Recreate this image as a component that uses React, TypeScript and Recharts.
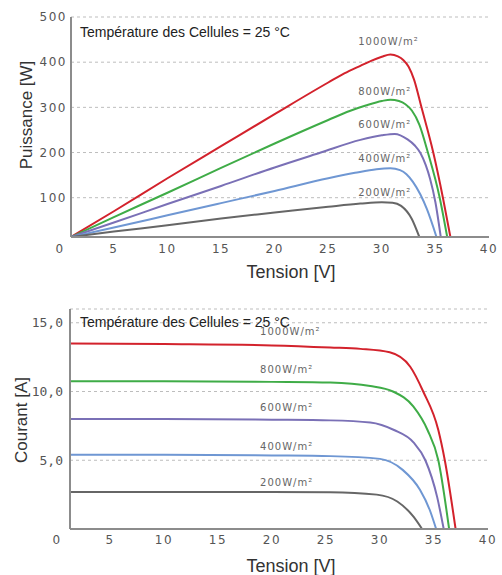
import {
  CartesianGrid,
  Customized,
  Line,
  LineChart,
  ReferenceDot,
  XAxis,
  YAxis,
} from "recharts";

const irradiance = ["1000W/m²", "800W/m²", "600W/m²", "400W/m²", "200W/m²"];
const colors = ["#d3222c", "#3fac47", "#7a70b6", "#6f97d3", "#666666"];

// Puissance [W] en fonction de la tension [V]
const pv1000V = [1, 5, 10, 15, 20, 25, 26.5, 28, 29, 30, 30.8, 31.5, 32.0, 32.5, 33.0, 33.7, 34.8, 35.7, 36.4];
const pv1000P = [13, 70, 143, 214, 285, 355, 375, 392, 403, 412, 417, 413, 405, 390, 362, 300, 200, 100, 13];
const pv800V = [1, 5, 10, 15, 20, 25, 27, 28.5, 30, 30.8, 31.6, 32.2, 32.8, 33.5, 34.3, 35.4, 36.1];
const pv800P = [13, 57, 111, 166, 220, 272, 292, 304, 314, 317, 314, 307, 293, 262, 200, 100, 13];
const pv600V = [1, 5, 10, 15, 20, 24.3, 28, 30, 31.2, 32.4, 33.1, 33.6, 34.1, 34.5, 35.0, 35.5];
const pv600P = [13, 45, 86, 126, 167, 200, 228, 238, 241, 229, 215, 199, 172, 142, 90, 13];
const pv400V = [1, 5, 10, 15, 20, 25, 27.5, 29.5, 30.8, 31.7, 32.3, 32.9, 33.6, 34.2, 35.1];
const pv400P = [13, 34, 61, 88, 115, 143, 155, 163, 165, 161, 152, 135, 107, 75, 13];
const pv200V = [1, 5, 10, 15, 20, 25, 28, 30, 31, 31.8, 32.8, 33.5];
const pv200P = [13, 25, 39, 54, 67, 80, 87, 90, 89, 82, 53, 13];

// Courant [A] en fonction de la tension [V]
const iv1000V = [1.3, 10, 20, 25.4, 28.2, 30.9, 32.8, 34.0, 35.4, 36.0, 37.0];
const iv1000I = [13.5, 13.45, 13.35, 13.2, 13.1, 12.85, 11.8, 10.0, 7.2, 5.0, 0];
const iv800V = [1.3, 10, 20, 25.4, 29.1, 31.2, 33.1, 34.4, 35.4, 36.4];
const iv800I = [10.75, 10.75, 10.7, 10.65, 10.4, 10.0, 8.9, 7.2, 5.0, 0];
const iv600V = [1.3, 10, 20, 25.4, 29.1, 31.3, 33.1, 34.2, 35.3, 35.9];
const iv600I = [8.0, 8.0, 7.95, 7.9, 7.75, 7.2, 6.3, 5.0, 2.3, 0];
const iv400V = [1.3, 10, 20, 25.4, 30, 32.1, 33.7, 34.6, 35.2];
const iv400I = [5.4, 5.4, 5.35, 5.3, 5.1, 4.3, 2.85, 1.4, 0];
const iv200V = [1.3, 10, 20, 25.4, 29.7, 31.6, 33.1, 33.9];
const iv200I = [2.7, 2.7, 2.7, 2.68, 2.5, 2.0, 0.9, 0];

const xTicksTop = [1, 5, 10, 15, 20, 25, 30, 35, 40];
const xTicksBottom = [1.3, 5, 10, 15, 20, 25, 30, 35, 40];
const yTicksPower = [100, 200, 300, 400, 500];
const yTicksCurrent = [5, 10, 15];

// label anchors (data coords) for the irradiance annotations
const powerLabelV = 27.8;
const powerLabelP = [447, 336, 263, 186, 111];
const currentLabelV = 18.9;
const currentLabelI = [14.38, 11.6, 8.83, 5.99, 3.36];

const toPts = (vs: number[], ys: number[]) => vs.map((v, i) => ({ v, y: ys[i] }));

const powerSeries = [
  toPts(pv1000V, pv1000P),
  toPts(pv800V, pv800P),
  toPts(pv600V, pv600P),
  toPts(pv400V, pv400P),
  toPts(pv200V, pv200P),
];
const currentSeries = [
  toPts(iv1000V, iv1000I),
  toPts(iv800V, iv800I),
  toPts(iv600V, iv600I),
  toPts(iv400V, iv400I),
  toPts(iv200V, iv200I),
];

const FRAME = "#8c8c8c";
const TICK_FONT = "DejaVu Sans";
const TITLE_FONT = "Liberation Sans, Arial, sans-serif";

function makeXTick(shift: number, dy: number) {
  return (props: any) => {
    const { x, y, payload, index } = props;
    const first = index === 0;
    return (
      <text
        x={x + (first ? shift : 0)}
        y={y + dy}
        textAnchor="middle"
        fill="#555"
        fontSize={12}
        fontFamily={TICK_FONT}
        letterSpacing={1.5}
      >
        {first ? "0" : String(payload.value)}
      </text>
    );
  };
}

function PowerYTick(props: any) {
  const { x, y, payload } = props;
  return (
    <text x={x} y={y} dy="0.36em" textAnchor="end" fill="#555" fontSize={12} fontFamily={TICK_FONT} letterSpacing={1.5}>
      {String(payload.value)}
    </text>
  );
}

function CurrentYTick(props: any) {
  const { x, y, payload } = props;
  return (
    <text x={x} y={y} dy="0.36em" textAnchor="end" fill="#555" fontSize={13} fontFamily="DejaVu Sans Mono">
      {payload.value.toFixed(1).replace(".", ",")}
    </text>
  );
}

function curveLabel(text: string) {
  return (p: any) => (
    <text x={p.cx} y={p.cy} dy="0.36em" fill="#666" fontSize={10} fontFamily={TICK_FONT} letterSpacing={1}>
      {text}
    </text>
  );
}

// thin box on the top and right sides of each plot
function frame() {
  return [
    <XAxis key="ft" xAxisId="top" orientation="top" type="number" domain={[0, 1]} height={0} tick={false} tickLine={false} axisLine={{ stroke: FRAME, strokeWidth: 1.5 }} />,
    <YAxis key="fr" yAxisId="right" orientation="right" type="number" domain={[0, 1]} width={0} tick={false} tickLine={false} axisLine={{ stroke: FRAME, strokeWidth: 1.5 }} />,
  ];
}

function Texts({ axisTitle, ax, ay, bottomY }: { axisTitle: string; ax: number; ay: number; bottomY: number }) {
  return (
    <g>
      <text x={80} y={37} fill="#222" fontSize={14} fontFamily={TITLE_FONT}>
        Température des Cellules = 25 °C
      </text>
      <text x={ax} y={ay} transform={`rotate(-90 ${ax} ${ay})`} textAnchor="middle" fill="#333" fontSize={17} fontFamily={TITLE_FONT}>
        {axisTitle}
      </text>
      <text x={291} y={bottomY} textAnchor="middle" fill="#333" fontSize={18} fontFamily={TITLE_FONT}>
        Tension [V]
      </text>
    </g>
  );
}

export default function App() {
  return (
    <div style={{ position: "absolute", left: 0, top: 0, width: 502, height: 575, background: "#fff" }}>
      <div style={{ position: "absolute", left: 0, top: 0 }}>
        <LineChart width={502} height={290} margin={{ top: 17, right: 13, left: 11, bottom: 23 }}>
          <CartesianGrid vertical={false} strokeDasharray="3 3" stroke="#bdbdbd" />
          <XAxis
            dataKey="v"
            type="number"
            domain={[1, 40]}
            ticks={xTicksTop}
            allowDataOverflow
            height={30}
            tickSize={0}
            tickMargin={0}
            tick={makeXTick(-11, 16)}
            axisLine={{ stroke: FRAME, strokeWidth: 2 }}
          />
          <YAxis
            type="number"
            domain={[13, 500]}
            ticks={yTicksPower}
            allowDataOverflow
            width={60}
            tickSize={0}
            tickMargin={4}
            tick={PowerYTick}
            axisLine={{ stroke: FRAME, strokeWidth: 2 }}
          />
          {frame()}
          {powerSeries.map((d, i) => (
            <Line
              key={irradiance[i]}
              data={d}
              dataKey="y"
              type="monotone"
              stroke={colors[i]}
              strokeWidth={2}
              dot={false}
              isAnimationActive={false}
            />
          ))}
          {irradiance.map((t, i) => (
            <ReferenceDot key={t} x={powerLabelV} y={powerLabelP[i]} r={0} shape={curveLabel(t)} />
          ))}
          <Customized component={() => <Texts axisTitle="Puissance [W]" ax={32} ay={115} bottomY={278} />} />
        </LineChart>
      </div>
      <div style={{ position: "absolute", left: 0, top: 290 }}>
        <LineChart width={502} height={285} margin={{ top: 19, right: 14, left: 10, bottom: 16 }}>
          <CartesianGrid vertical={false} strokeDasharray="3 3" stroke="#bdbdbd" />
          <XAxis
            dataKey="v"
            type="number"
            domain={[1.3, 40]}
            ticks={xTicksBottom}
            allowDataOverflow
            height={30}
            tickSize={0}
            tickMargin={0}
            tick={makeXTick(-13, 15)}
            axisLine={{ stroke: FRAME, strokeWidth: 2 }}
          />
          <YAxis
            type="number"
            domain={[0, 16]}
            ticks={yTicksCurrent}
            allowDataOverflow
            width={60}
            tickSize={0}
            tickMargin={7}
            tick={CurrentYTick}
            axisLine={{ stroke: FRAME, strokeWidth: 2 }}
          />
          {frame()}
          {currentSeries.map((d, i) => (
            <Line
              key={irradiance[i]}
              data={d}
              dataKey="y"
              type="monotone"
              stroke={colors[i]}
              strokeWidth={2}
              dot={false}
              isAnimationActive={false}
            />
          ))}
          {irradiance.map((t, i) => (
            <ReferenceDot key={t} x={currentLabelV} y={currentLabelI[i]} r={0} shape={curveLabel(t)} />
          ))}
          <Customized component={() => <Texts axisTitle="Courant [A]" ax={27} ay={130} bottomY={282} />} />
        </LineChart>
      </div>
    </div>
  );
}
